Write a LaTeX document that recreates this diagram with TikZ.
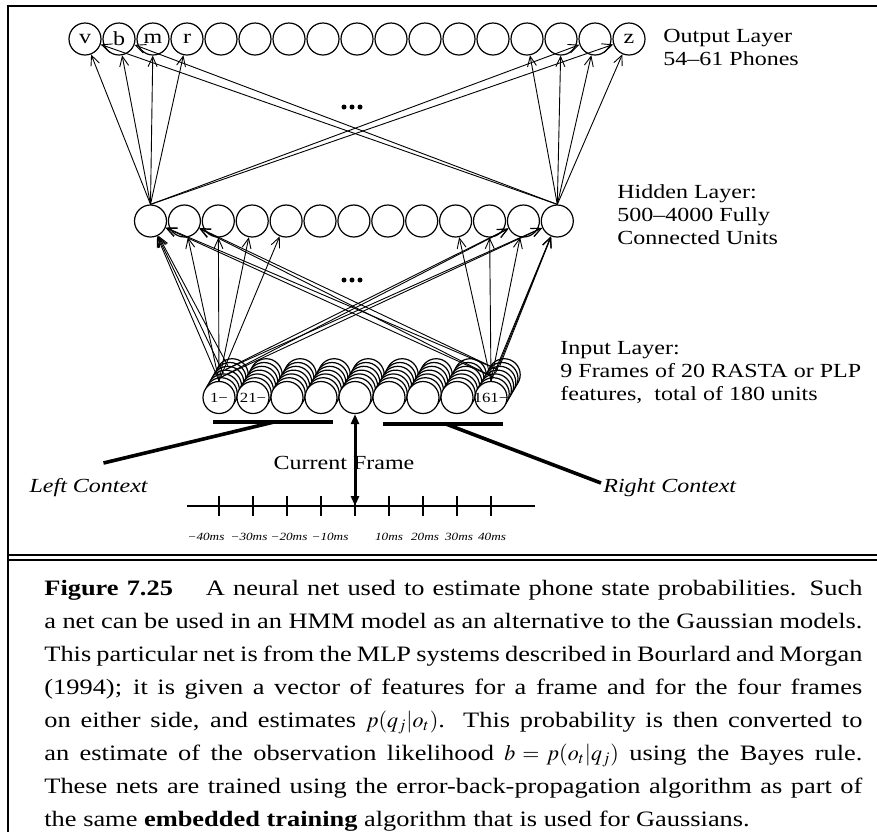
\documentclass[tikz,border=0pt]{standalone}
\usepackage{mathptmx}
\usepackage{fontspec}
\setmainfont{Liberation Serif}[FakeStretch=1.2]
\usetikzlibrary{arrows.meta}

\begin{document}
\begin{tikzpicture}[x=0.5pt,y=-0.5pt,
    unit/.style={circle, draw, line width=0.6pt, fill=white, minimum size=16pt, inner sep=0pt},
    conn/.style={-{Straight Barb[length=5pt,width=4.5pt]}, line width=0.45pt},
    lbl/.style={font=\fontsize{10}{11.5}\selectfont, inner sep=0pt},
    ctxbar/.style={line width=2pt},
    ctxline/.style={line width=1.8pt},
    frameline/.style={line width=1pt},
    curarrow/.style={{Triangle[length=5pt,width=4pt]}-{Triangle[length=5pt,width=4pt]}, line width=1.5pt}]
    \useasboundingbox (0,0) rectangle (877,832);

    % frame
    \draw[frameline] (877,6) -- (8,6) -- (8,832);
    \draw[frameline] (8,555) -- (877,555);
    \draw[frameline] (8,560) -- (877,560);

    % output layer
    \foreach \i/\t in {0/v,1/b,2/m,3/r,4/{},5/{},6/{},7/{},8/{},9/{},10/{},11/{},12/{},13/{},14/{},15/{},16/z}
        \node[unit, font=\fontsize{10}{11}\selectfont] (o\i) at ({85+34*\i},39) {\t};
    \foreach \d in {344,352,360}
        \fill (\d,107) circle[radius=1.25pt];
    \node[lbl, anchor=north west, align=left] (outlbl) at (663,28.5) {Output Layer\\54--61 Phones};

    % hidden layer
    \foreach \i in {0,...,12}
        \node[unit] (h\i) at ({150.5+33.9*\i},221) {};
    \foreach \d in {344,352,360}
        \fill (\d,280) circle[radius=1.25pt];
    \node[lbl, anchor=north west, align=left] (hidlbl) at (617,184.5) {Hidden Layer:\\500--4000 Fully\\Connected Units};

    % input layer, 9 frames of stacked units
    \foreach \j in {6,5,...,1}
        \foreach \k in {0,...,8}
            \node[unit] (i\k-\j) at ({219+34*\k+2.2*\j},{397.5-3.8*\j}) {};
    \foreach \k/\t in {0/1−,1/21−,2/{},3/{},4/{},5/{},6/{},7/{},8/161−}
        \node[unit, font=\fontsize{7}{8}\selectfont] (i\k-0) at ({219+34*\k},397.5) {\makebox[0pt]{\t}};
    \node[lbl, anchor=north west, align=left] (inlbl) at (560,341) {Input Layer:\\9 Frames of 20 RASTA or PLP\\features,~ total of 180 units};

    % hidden -> output
    \foreach \t in {0,1,2,3,15,16}
        \draw[conn] (h0.north) -- (o\t);
    \foreach \t in {0,1,13,14,15,16}
        \draw[conn] (h12.north) -- (o\t);

    % input -> hidden
    \foreach \j/\t in {0/0,2/0,4/0,0/1,0/2,0/3,0/4,1/11,3/11,1/12,3/12}
        \draw[conn] (i0-\j.north) -- (h\t);
    \foreach \j/\t in {0/12,2/12,4/12,0/11,0/10,0/9,1/0,3/0,1/1,3/1}
        \draw[conn] (i8-\j.north) -- (h\t);

    % context bars
    \draw[ctxbar] (213,422) -- (333,422);
    \draw[ctxbar] (383,423.5) -- (503,423.5);
    \coordinate (lbar) at (274,422);
    \coordinate (rbar) at (444.6,423.5);
    \coordinate (lend) at (103.5,463);
    \coordinate (rend) at (601,483);
    \draw[ctxline] (lbar) -- (lend);
    \draw[ctxline] (rbar) -- (rend);
    \node[lbl, anchor=base east, font=\fontsize{10}{11.5}\selectfont\itshape] (lctx) at (148,492) {Left Context};
    \node[lbl, anchor=base west, font=\fontsize{10}{11.5}\selectfont\itshape] (rctx) at (603,492) {Right Context};

    % time axis
    \draw[line width=1.4pt] (187,506) -- (535,506);
    \foreach \k in {0,...,8} {
        \coordinate (tk\k) at ({219+34*\k},506);
        \draw[line width=1pt] (tk\k) ++(0,-10) -- ++(0,20);
    }
    \foreach \x/\t in {206/−40ms,249/−30ms,289/−20ms,330/−10ms,389/10ms,425/20ms,459/30ms,492/40ms}
        \node[inner sep=0pt, anchor=base, font=\fontsize{5.5}{6}\selectfont\itshape] at (\x,540) {\t};

    % current frame
    \node[lbl, anchor=base] (curlbl) at (344,469) {Current Frame};
    \draw[curarrow] (i4-0.south) -- (tk4);

    % caption
    \node[anchor=north west, inner sep=0pt, text width=409pt, align=justify,
          font=\fontsize{11}{16.5}\selectfont] (cap) at (44,580) {%
        \textbf{Figure 7.25}\hspace{1.5em}A neural net used to estimate phone state probabilities. Such\linebreak
        a net can be used in an HMM model as an alternative to the Gaussian models.\linebreak
        This particular net is from the MLP systems described in Bourlard and Morgan\linebreak
        (1994); it is given a vector of features for a frame and for the four frames\linebreak
        on either side, and estimates $p(q_j|o_t)$. This probability is then converted to\linebreak
        an estimate of the observation likelihood $b = p(o_t|q_j)$ using the Bayes rule.\linebreak
        These nets are trained using the error-back-propagation algorithm as part of\linebreak
        the same \textbf{embedded training} algorithm that is used for Gaussians.};
\end{tikzpicture}
\end{document}
